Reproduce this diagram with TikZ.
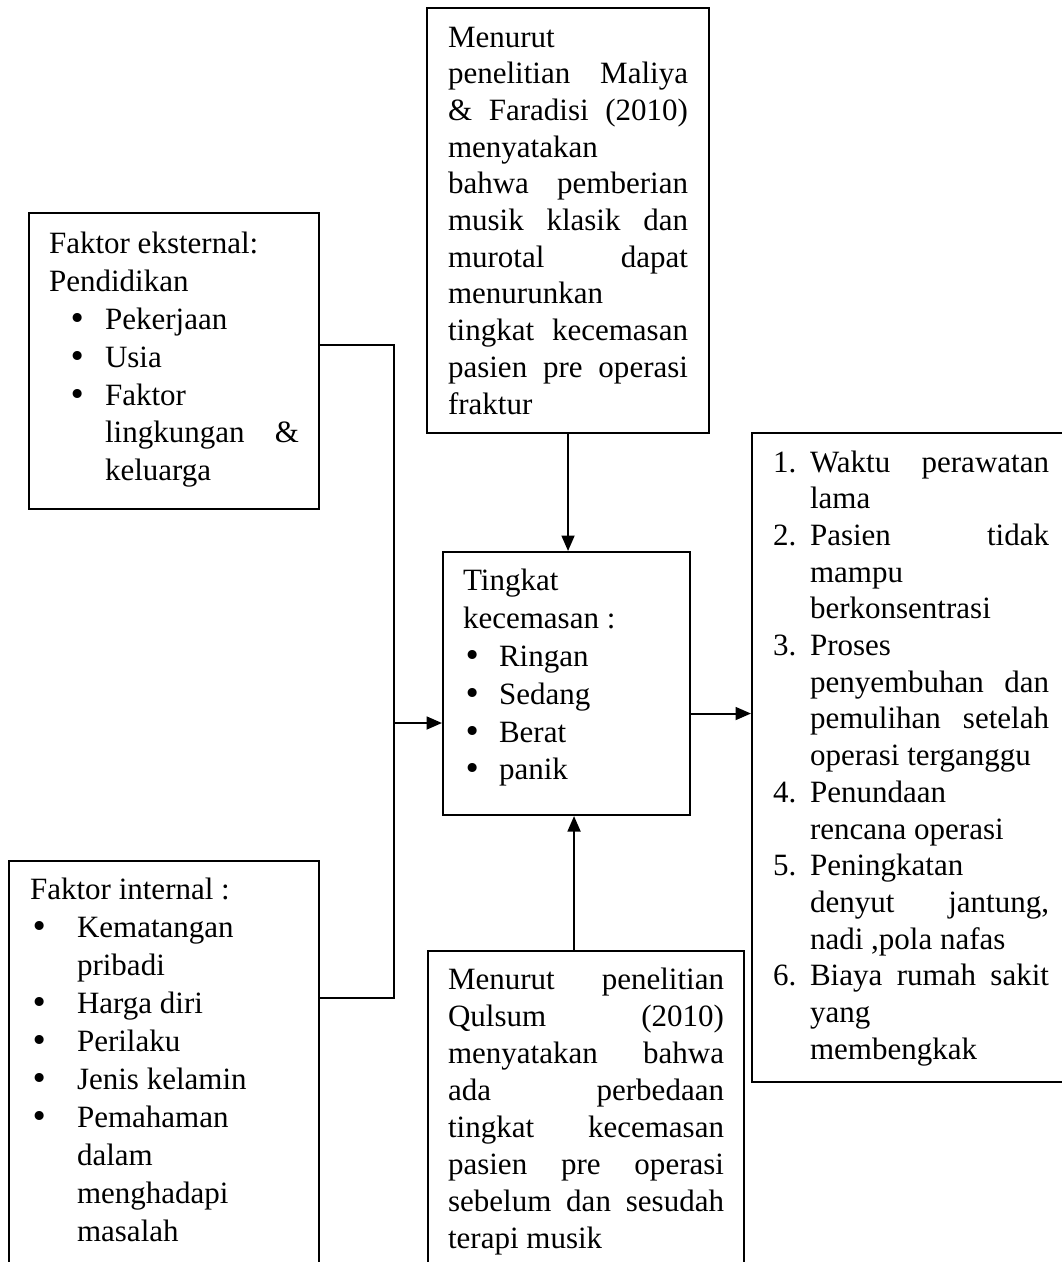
\documentclass[tikz,border=0pt]{standalone}
\usepackage{fontspec}
\setmainfont{Liberation Serif}
\newfontfamily\simbol{DejaVu Sans}
\usetikzlibrary{arrows.meta}
\newlength\upx
\setlength\upx{0.387pt}
\newcommand\isi[4]{\parbox[t][#2\upx][t]{#1\upx}{\fontsize{12}{#3\upx}\selectfont\strut#4}}
\newcommand\titik{{\simbol •}}
\newcommand\butir[2]{\hspace*{#1\upx}\makebox[#2\upx][l]{\titik}}
\newcommand\geser[1]{\hspace*{#1\upx}}
\newcommand\nomor[1]{\makebox[37\upx][l]{#1}}

\begin{document}
\begin{tikzpicture}[x=0.387pt, y=-0.387pt,
  kotak/.style={draw, line width=0.8pt, anchor=north west, inner xsep=#1\upx},
  panah/.style={line width=0.8pt, -{Triangle[length=6pt, width=5pt]}}]
\useasboundingbox (0,0) rectangle (1062,1262);
\clip (0,0) rectangle (1062,1262);
\node[kotak=21, inner ysep=13.3\upx] (maliya) at (426,7) {\isi{240}{398.4}{36.7}{Menurut\\
penelitian\hfill Maliya\\
\&\hfill Faradisi\hfill (2010)\\
menyatakan\\
bahwa\hfill pemberian\\
musik\hfill klasik\hfill dan\\
murotal\hfill dapat\\
menurunkan\\
tingkat\hfill kecemasan\\
pasien\hfill pre\hfill operasi\\
fraktur}};
\node[kotak=20, inner ysep=14.5\upx] (eksternal) at (28,212) {\isi{250}{267}{37.8}{Faktor eksternal:\\
Pendidikan\\
\butir{19}{37}Pekerjaan\\
\butir{19}{37}Usia\\
\butir{19}{37}Faktor\\
\geser{56}lingkungan\hfill\&\\
\geser{56}keluarga}};
\node[kotak=20, inner ysep=12.5\upx] (tingkat) at (442,551) {\isi{207}{238}{37.8}{Tingkat\\
kecemasan :\\
\butir{0}{36}Ringan\\
\butir{0}{36}Sedang\\
\butir{0}{36}Berat\\
\butir{0}{36}panik}};
\node[kotak=21, inner ysep=11.4\upx] (internal) at (8,860) {\isi{268}{397}{38}{Faktor internal :\\
\butir{0}{47}Kematangan\\
\geser{47}pribadi\\
\butir{0}{47}Harga diri\\
\butir{0}{47}Perilaku\\
\butir{0}{47}Jenis kelamin\\
\butir{0}{47}Pemahaman\\
\geser{47}dalam\\
\geser{47}menghadapi\\
\geser{47}masalah}};
\node[kotak=20, inner ysep=12\upx] (qulsum) at (427,950) {\isi{276}{306}{37.1}{Menurut\hfill penelitian\\
Qulsum\hfill (2010)\\
menyatakan\hfill bahwa\\
ada\hfill perbedaan\\
tingkat\hfill kecemasan\\
pasien\hfill pre\hfill operasi\\
sebelum\hfill dan\hfill sesudah\\
terapi musik}};
\node[kotak=21, inner ysep=13.3\upx] (akibat) at (751,432) {\isi{276}{622.4}{36.7}{\nomor{1.}Waktu\hfill perawatan\\
\geser{37}lama\\
\nomor{2.}Pasien\hfill tidak\\
\geser{37}mampu\\
\geser{37}berkonsentrasi\\
\nomor{3.}Proses\\
\geser{37}penyembuhan\hfill dan\\
\geser{37}pemulihan\hfill setelah\\
\geser{37}operasi terganggu\\
\nomor{4.}Penundaan\\
\geser{37}rencana operasi\\
\nomor{5.}Peningkatan\\
\geser{37}denyut\hfill jantung,\\
\geser{37}nadi ,pola nafas\\
\nomor{6.}Biaya\hfill rumah\hfill sakit\\
\geser{37}yang\\
\geser{37}membengkak}};
\coordinate (gabung) at (394,723);
\draw[line width=0.8pt] ([yshift=-133\upx]eksternal.north east) -| (gabung) |- ([yshift=-138\upx]internal.north east);
\draw[panah] (gabung) -- (gabung -| tingkat.west);
\draw[panah] (maliya.south) -- (maliya.south |- tingkat.north);
\draw[panah] ([xshift=-12\upx]qulsum.north) -- ([xshift=-12\upx]qulsum.north |- tingkat.south);
\draw[panah] ([yshift=-30\upx]tingkat.east) -- ([yshift=-30\upx]tingkat.east -| akibat.west);
\end{tikzpicture}
\end{document}
